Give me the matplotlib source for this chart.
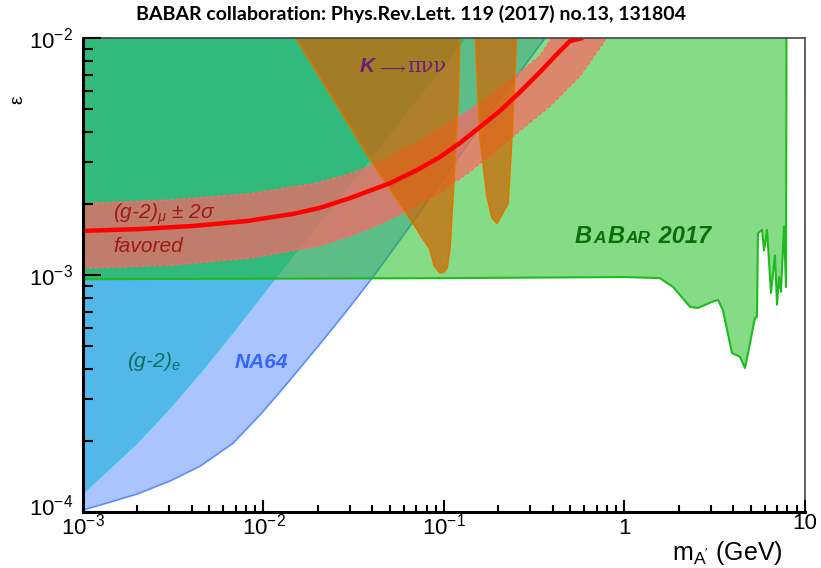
import numpy as np
import matplotlib
matplotlib.use('Agg')
import matplotlib.pyplot as plt
import matplotlib.transforms as mtransforms
from matplotlib.ticker import FixedLocator, FixedFormatter, LogLocator, NullFormatter
from matplotlib.offsetbox import TextArea, HPacker, AnnotationBbox

plt.rcParams['font.family'] = ['Liberation Sans', 'DejaVu Sans']
plt.rcParams['mathtext.fontset'] = 'custom'
plt.rcParams['mathtext.rm'] = 'Liberation Sans'
plt.rcParams['mathtext.it'] = 'Liberation Sans:italic'
plt.rcParams['mathtext.bf'] = 'Liberation Sans:bold'

# BaBar 2017 exclusion (lower edge, region above is excluded)
babar_mass = [1e-3, 0.1, 1.0, 1.57, 1.86, 2.31, 2.55, 3.05, 3.30, 3.51, 3.94, 4.37,
              4.65, 4.96, 5.28, 5.42, 5.49, 5.78, 5.93, 6.16, 6.48, 6.82, 7.0,
              7.18, 7.36, 7.65, 7.85, 7.9]
babar_eps = [9.6e-4, 9.7e-4, 9.8e-4, 9.7e-4, 8.9e-4, 7.33e-4, 7.26e-4, 7.7e-4,
             7.85e-4, 7.1e-4, 4.69e-4, 4.51e-4, 4.05e-4, 5.16e-4, 6.59e-4, 6.65e-4,
             1.50e-3, 1.55e-3, 1.27e-3, 1.55e-3, 8.4e-4, 1.21e-3, 7.5e-4, 9.8e-4,
             8.5e-4, 1.6e-3, 8.9e-4, 1.2e-2]

# (g-2)_e exclusion (region above-left)
g2e_mass = [1e-3, 1.41e-3, 1.99e-3, 3.03e-3, 4.45e-3, 6.78e-3, 0.01086, 0.02056,
            0.0389, 0.0608, 0.0914, 0.134, 0.15]
g2e_eps = [1.2e-4, 1.53e-4, 1.95e-4, 2.75e-4, 3.86e-4, 5.74e-4, 9.08e-4, 1.67e-3,
           3.08e-3, 4.78e-3, 7.05e-3, 1.02e-2, 1.2e-2]

# NA64 exclusion (region above-left)
na64_mass = [1e-3, 1.41e-3, 1.99e-3, 3.03e-3, 4.45e-3, 6.78e-3, 9.57e-3, 0.01233,
             0.01592, 0.02056, 0.0283, 0.0404, 0.0649, 0.108, 0.204, 0.363, 0.42]
na64_eps = [1.02e-4, 1.10e-4, 1.19e-4, 1.35e-4, 1.56e-4, 1.95e-4, 2.57e-4, 3.21e-4,
            4.05e-4, 5.12e-4, 6.92e-4, 9.8e-4, 1.61e-3, 2.8e-3, 5.53e-3, 1.0e-2, 1.2e-2]

# K -> pi nu nu, two islands
kpnn1_mass = [0.01403, 0.0389, 0.0708, 0.0745, 0.0835, 0.088, 0.0951, 0.100, 0.104,
              0.108, 0.115, 0.120, 0.1228]
kpnn1_eps = [1.1e-2, 3.08e-3, 1.56e-3, 1.46e-3, 1.29e-3, 1.1e-3, 1.02e-3, 1.03e-3,
             1.07e-3, 1.31e-3, 2.97e-3, 5.64e-3, 1.1e-2]
kpnn2_mass = [0.1486, 0.158, 0.173, 0.1845, 0.197, 0.212, 0.2264, 0.238, 0.2535]
kpnn2_eps = [1.1e-2, 3.85e-3, 2.15e-3, 1.74e-3, 1.65e-3, 1.83e-3, 2.0e-3, 3.85e-3, 1.1e-2]

# (g-2)_mu +- 2 sigma favoured band: upper edge, lower edge, central value
gm2_hi_mass = [1e-3, 3.03e-3, 8.41e-3, 0.01977, 0.0301, 0.0425, 0.0649, 0.0951,
               0.145, 0.2234, 0.340, 0.386, 0.5]
gm2_hi_eps = [2.0e-3, 2.07e-3, 2.20e-3, 2.44e-3, 2.67e-3, 2.94e-3, 3.50e-3, 4.13e-3,
              5.07e-3, 6.46e-3, 8.4e-3, 9.7e-3, 1.4e-2]
gm2_lo_mass = [1e-3, 3.03e-3, 8.41e-3, 0.01977, 0.0301, 0.0459, 0.0649, 0.0951,
               0.145, 0.2535, 0.386, 0.566, 0.760, 0.85]
gm2_lo_eps = [1.07e-3, 1.10e-3, 1.18e-3, 1.32e-3, 1.46e-3, 1.66e-3, 1.90e-3, 2.22e-3,
              2.80e-3, 3.97e-3, 5.16e-3, 6.91e-3, 9.5e-3, 1.1e-2]
gm2_c_mass = [1e-3, 2.07e-3, 4.06e-3, 8.11e-3, 0.01456, 0.02056, 0.0301, 0.0502,
              0.0708, 0.0951, 0.1228, 0.158, 0.204, 0.264, 0.340, 0.423, 0.499, 0.59]
gm2_c_eps = [1.535e-3, 1.563e-3, 1.61e-3, 1.69e-3, 1.81e-3, 1.92e-3, 2.11e-3, 2.44e-3,
             2.77e-3, 3.15e-3, 3.61e-3, 4.21e-3, 4.92e-3, 5.92e-3, 7.18e-3, 8.56e-3,
             9.71e-3, 1.0e-2]

x_ticks = [1e-3, 1e-2, 1e-1, 1, 10]
x_ticklabels = ['$10^{-3}$', '$10^{-2}$', '$10^{-1}$', '1', '']
y_ticks = [1e-4, 1e-3, 1e-2]
y_ticklabels = ['$10^{-4}$', '$10^{-3}$', '$10^{-2}$']

fig = plt.figure(figsize=(8.21, 5.68), dpi=100)
ax = fig.add_axes([0.1011, 0.0986, 0.8794, 0.8345])
ax.set_xscale('log')
ax.set_yscale('log')
ax.set_xlim(1e-3, 10)
ax.set_ylim(1e-4, 1e-2)

top = 0.02
ax.fill_between(na64_mass, na64_eps, top, facecolor='#aac4ff', edgecolor='none', zorder=1)
ax.plot(na64_mass, na64_eps, color='#5a8cff', lw=1.2, zorder=1.1)
ax.fill_between(g2e_mass, g2e_eps, top, facecolor='#52b8ea', edgecolor='none', zorder=2)
ax.plot(g2e_mass, g2e_eps, color='#3cc4e8', lw=1.0, zorder=2.1)
ax.fill_between(babar_mass, babar_eps, top, facecolor='#16ba18', alpha=0.52,
                edgecolor='none', zorder=3)
ax.plot(babar_mass, babar_eps, color='#1cbc1c', lw=1.5, zorder=3.1)

band_x = gm2_hi_mass + gm2_lo_mass[::-1]
band_y = gm2_hi_eps + gm2_lo_eps[::-1]
ax.fill(band_x, band_y, facecolor='#ff6464', alpha=0.7, edgecolor='none', zorder=4)
ax.plot(gm2_hi_mass, gm2_hi_eps, color='#ff6a6a', lw=1.2, ls=(0, (2, 1.5)), zorder=4.1)
ax.plot(gm2_lo_mass, gm2_lo_eps, color='#ff6a6a', lw=1.2, ls=(0, (2, 1.5)), zorder=4.1)

for xs, ys in [(kpnn1_mass, kpnn1_eps), (kpnn2_mass, kpnn2_eps)]:
    ax.fill(xs, ys, facecolor='#d26400', alpha=0.7, edgecolor='none', zorder=5)
    ax.plot(xs, ys, color='#e07400', lw=1.2, zorder=5.1)

ax.plot(gm2_c_mass, gm2_c_eps, color='#ff0000', lw=3.2, zorder=6,
        solid_capstyle='butt', solid_joinstyle='round')

# labels on the plot
ax.text(1.47e-3, 1.72e-3, r'(g-2)$_{\mu}$ $\pm$ 2$\sigma$', color='#a01818', fontsize=15,
        fontstyle='italic', va='baseline', zorder=7)
ax.text(1.47e-3, 1.25e-3, 'favored', color='#a01818', fontsize=15,
        fontstyle='italic', va='baseline', zorder=7)
ax.text(1.75e-3, 4.09e-4, r'(g-2)$_{\mathit{e}}$', color='#0f6e5a', fontsize=15,
        fontstyle='italic', va='baseline', zorder=7)
ax.text(6.95e-3, 4.06e-4, 'NA64', color='#3366ff', fontsize=15, fontstyle='italic',
        fontweight='bold', va='baseline', zorder=7)

purple = '#6e1e78'
kbox = HPacker(children=[
    TextArea('K', textprops=dict(color=purple, size=15, style='italic', weight='bold')),
    TextArea(r'$\longrightarrow$', textprops=dict(color=purple, size=12,
                                                  math_fontfamily='stix')),
    TextArea('πνν', textprops=dict(color=purple, size=15, family='DejaVu Serif')),
], align='baseline', pad=0, sep=1)
ax.add_artist(AnnotationBbox(kbox, (0.0343, 7.55e-3), frameon=False,
                             box_alignment=(0, 0.5), zorder=7))

green = '#0a6e0a'
big = dict(color=green, size=17, style='italic', weight='bold')
small = dict(color=green, size=12.5, style='italic', weight='bold')
bbox_babar = HPacker(children=[
    TextArea('B', textprops=big), TextArea('A', textprops=small),
    TextArea('B', textprops=big), TextArea('AR', textprops=small),
    TextArea(' 2017', textprops=big),
], align='baseline', pad=0, sep=1)
ax.add_artist(AnnotationBbox(bbox_babar, (0.532, 1.453e-3), frameon=False,
                             box_alignment=(0, 0.5), zorder=7))

# axes styling
ax.xaxis.set_major_locator(FixedLocator(x_ticks))
ax.xaxis.set_major_formatter(FixedFormatter(x_ticklabels))
ax.xaxis.set_minor_locator(LogLocator(base=10, subs=np.arange(2, 10)))
ax.xaxis.set_minor_formatter(NullFormatter())
ax.yaxis.set_major_locator(FixedLocator(y_ticks))
ax.yaxis.set_major_formatter(FixedFormatter(y_ticklabels))
ax.yaxis.set_minor_locator(LogLocator(base=10, subs=np.arange(2, 10)))
ax.yaxis.set_minor_formatter(NullFormatter())

ax.tick_params(axis='both', which='both', direction='in', top=False, right=False,
               labelsize=16, width=1.5)
ax.tick_params(axis='x', which='major', length=9, pad=16)
ax.tick_params(axis='x', which='minor', length=5)
ax.tick_params(axis='y', which='major', length=13, pad=7)
ax.tick_params(axis='y', which='minor', length=7)
for lab in ax.get_xticklabels():
    lab.set_verticalalignment('baseline')
ax.xaxis.set_zorder(10)
ax.yaxis.set_zorder(10)

# lift the bottom y label a little so it clears the first x label
low_lab = ax.yaxis.get_major_ticks()[0].label1
low_lab.set_transform(low_lab.get_transform() +
                      mtransforms.ScaledTranslation(0, 5 / 72, fig.dpi_scale_trans))

for s in ['left', 'bottom']:
    ax.spines[s].set_linewidth(2.2)
    ax.spines[s].set_color('black')
for s in ['top', 'right']:
    ax.spines[s].set_linewidth(1.2)
    ax.spines[s].set_color('#444444')
for s in ax.spines.values():
    s.set_zorder(10)

ax.annotate('10', xy=(1, 0), xycoords='axes fraction', xytext=(0, -1),
            textcoords='offset points', ha='center', va='top', fontsize=16)

fig.text(0.953, 0.026, r"m$_{\mathregular{A'}}$ (GeV)", ha='right', va='center', fontsize=18)
fig.text(0.022, 0.824, 'ε', rotation=90, ha='center', va='center', fontsize=14)
fig.text(0.5, 1 - 14 / 568, 'BABAR collaboration: Phys.Rev.Lett. 119 (2017) no.13, 131804',
         ha='center', va='center', fontsize=14, fontweight='bold', family=['Lato', 'DejaVu Sans'])

fig.savefig('out.png', dpi=100)
